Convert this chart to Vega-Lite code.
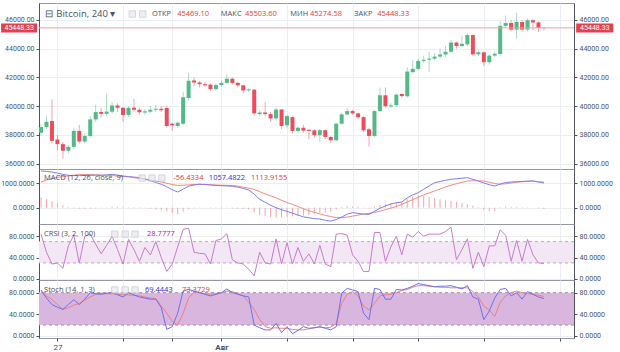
{
"$schema":"https://vega.github.io/schema/vega-lite/v6.json",
"padding":{"left":0,"top":2,"right":0,"bottom":0},
"background":"#ffffff",
"bounds":"flush",
"spacing":0,
"config":{
 "view":{"stroke":"#9598a1","strokeWidth":1},
 "axis":{"labelFont":"Roboto","labelFontSize":7,"labelColor":"#4c525e","gridColor":"#eceef2","domainColor":"#50535e","tickColor":"#50535e","tickSize":3,"labelPadding":2},
 "text":{"font":"Open Sans"}
},
"datasets":{"bars":[
{"i":0,"o":38150,"h":38750,"l":37950,"c":38550,"macd":1486,"sig":1040,"hist":420,"crsi":84,"k":85,"d":81},
{"i":1,"o":38550,"h":39300,"l":38400,"c":38920,"macd":1470,"sig":1120,"hist":350,"crsi":50,"k":70,"d":74},
{"i":2,"o":38970,"h":40480,"l":37400,"c":37590,"macd":1445,"sig":1180,"hist":265,"crsi":28,"k":58,"d":67},
{"i":3,"o":37680,"h":38000,"l":36900,"c":37360,"macd":1400,"sig":1230,"hist":170,"crsi":30,"k":53,"d":58},
{"i":4,"o":37360,"h":37500,"l":36350,"c":36900,"macd":1350,"sig":1255,"hist":95,"crsi":20,"k":49,"d":49},
{"i":5,"o":36900,"h":37300,"l":36700,"c":37170,"macd":1311,"sig":1290,"hist":25,"crsi":62,"k":58,"d":52},
{"i":6,"o":37170,"h":38500,"l":37000,"c":38280,"macd":1300,"sig":1320,"hist":-20,"crsi":82,"k":67,"d":57},
{"i":7,"o":38280,"h":38700,"l":37400,"c":37540,"macd":1300,"sig":1340,"hist":-35,"crsi":30,"k":58,"d":60},
{"i":8,"o":37540,"h":38100,"l":37400,"c":37930,"macd":1305,"sig":1350,"hist":-40,"crsi":80,"k":68,"d":66},
{"i":9,"o":37930,"h":39300,"l":37800,"c":39080,"macd":1310,"sig":1345,"hist":-35,"crsi":84,"k":80,"d":72},
{"i":10,"o":39080,"h":40100,"l":38900,"c":39590,"macd":1315,"sig":1335,"hist":-25,"crsi":65,"k":78,"d":77},
{"i":11,"o":39600,"h":39900,"l":39200,"c":39470,"macd":1311,"sig":1320,"hist":-15,"crsi":47,"k":77,"d":79},
{"i":12,"o":39470,"h":40900,"l":39300,"c":39620,"macd":1330,"sig":1311,"hist":15,"crsi":63,"k":79,"d":78},
{"i":13,"o":39620,"h":40300,"l":39500,"c":40050,"macd":1350,"sig":1300,"hist":45,"crsi":80,"k":80,"d":78},
{"i":14,"o":40050,"h":40200,"l":39600,"c":39890,"macd":1320,"sig":1280,"hist":35,"crsi":55,"k":76,"d":77},
{"i":15,"o":39890,"h":39950,"l":38900,"c":39380,"macd":1283,"sig":1260,"hist":20,"crsi":28,"k":72,"d":76},
{"i":16,"o":39380,"h":40000,"l":39250,"c":39890,"macd":1260,"sig":1245,"hist":15,"crsi":74,"k":80,"d":76},
{"i":17,"o":39900,"h":40500,"l":39600,"c":39750,"macd":1240,"sig":1215,"hist":20,"crsi":55,"k":76,"d":75},
{"i":18,"o":39750,"h":39900,"l":39400,"c":39580,"macd":1215,"sig":1190,"hist":20,"crsi":33,"k":72,"d":74},
{"i":19,"o":39560,"h":39800,"l":39400,"c":39640,"macd":1160,"sig":1160,"hist":-10,"crsi":59,"k":70,"d":72},
{"i":20,"o":39620,"h":40000,"l":39500,"c":39750,"macd":1090,"sig":1120,"hist":-40,"crsi":45,"k":68,"d":70},
{"i":21,"o":39750,"h":40100,"l":39600,"c":39820,"macd":1020,"sig":1080,"hist":-70,"crsi":70,"k":68,"d":69},
{"i":22,"o":39820,"h":40000,"l":39600,"c":39720,"macd":947,"sig":1040,"hist":-100,"crsi":40,"k":52,"d":55},
{"i":23,"o":39880,"h":40000,"l":38500,"c":38620,"macd":850,"sig":990,"hist":-150,"crsi":14,"k":12,"d":42},
{"i":24,"o":38780,"h":38850,"l":38300,"c":38670,"macd":730,"sig":940,"hist":-220,"crsi":28,"k":17,"d":27},
{"i":25,"o":38620,"h":38950,"l":38500,"c":38850,"macd":636,"sig":900,"hist":-270,"crsi":60,"k":42,"d":20},
{"i":26,"o":38780,"h":41000,"l":38700,"c":40620,"macd":750,"sig":910,"hist":-160,"crsi":93,"k":83,"d":42},
{"i":27,"o":40570,"h":42300,"l":40400,"c":41770,"macd":870,"sig":925,"hist":-60,"crsi":95,"k":86,"d":70},
{"i":28,"o":41790,"h":42000,"l":41400,"c":41650,"macd":920,"sig":940,"hist":-25,"crsi":50,"k":83,"d":81},
{"i":29,"o":41650,"h":41750,"l":41300,"c":41530,"macd":947,"sig":947,"hist":-10,"crsi":48,"k":80,"d":80},
{"i":30,"o":41530,"h":41700,"l":41350,"c":41450,"macd":940,"sig":940,"hist":-10,"crsi":47,"k":77,"d":78},
{"i":31,"o":41500,"h":41600,"l":41050,"c":41190,"macd":920,"sig":930,"hist":-15,"crsi":28,"k":74,"d":77},
{"i":32,"o":41190,"h":41600,"l":41100,"c":41470,"macd":900,"sig":920,"hist":-20,"crsi":72,"k":77,"d":78},
{"i":33,"o":41470,"h":41800,"l":41350,"c":41620,"macd":890,"sig":910,"hist":-20,"crsi":75,"k":80,"d":80},
{"i":34,"o":41620,"h":42200,"l":41550,"c":41910,"macd":880,"sig":905,"hist":-25,"crsi":85,"k":87,"d":83},
{"i":35,"o":41910,"h":42000,"l":41500,"c":41620,"macd":870,"sig":900,"hist":-30,"crsi":36,"k":80,"d":82},
{"i":36,"o":41620,"h":41700,"l":41300,"c":41450,"macd":830,"sig":870,"hist":-40,"crsi":30,"k":77,"d":78},
{"i":37,"o":41450,"h":41500,"l":40900,"c":41100,"macd":780,"sig":830,"hist":-55,"crsi":28,"k":74,"d":74},
{"i":38,"o":41100,"h":41250,"l":41000,"c":41170,"macd":716,"sig":790,"hist":-80,"crsi":18,"k":72,"d":62},
{"i":39,"o":41150,"h":41200,"l":39400,"c":39500,"macd":550,"sig":740,"hist":-190,"crsi":6,"k":20,"d":49},
{"i":40,"o":39450,"h":39700,"l":39300,"c":39560,"macd":340,"sig":650,"hist":-300,"crsi":50,"k":15,"d":30},
{"i":41,"o":39560,"h":40300,"l":39300,"c":39450,"macd":220,"sig":560,"hist":-340,"crsi":30,"k":11,"d":17},
{"i":42,"o":39450,"h":39600,"l":38900,"c":39150,"macd":100,"sig":480,"hist":-380,"crsi":28,"k":11,"d":14},
{"i":43,"o":39150,"h":39900,"l":39000,"c":39770,"macd":0,"sig":400,"hist":-400,"crsi":75,"k":23,"d":15},
{"i":44,"o":39770,"h":39800,"l":38400,"c":38620,"macd":-80,"sig":300,"hist":-390,"crsi":28,"k":6,"d":14},
{"i":45,"o":38670,"h":39400,"l":38500,"c":39310,"macd":-150,"sig":210,"hist":-370,"crsi":68,"k":17,"d":14},
{"i":46,"o":39240,"h":39300,"l":38100,"c":38280,"macd":-220,"sig":135,"hist":-355,"crsi":28,"k":4,"d":12},
{"i":47,"o":38280,"h":38600,"l":38150,"c":38500,"macd":-300,"sig":50,"hist":-340,"crsi":59,"k":10,"d":11},
{"i":48,"o":38500,"h":38700,"l":38150,"c":38300,"macd":-370,"sig":-40,"hist":-320,"crsi":33,"k":17,"d":11},
{"i":49,"o":38360,"h":38400,"l":37700,"c":38280,"macd":-410,"sig":-120,"hist":-290,"crsi":47,"k":14,"d":13},
{"i":50,"o":38320,"h":38400,"l":37800,"c":37980,"macd":-440,"sig":-190,"hist":-250,"crsi":28,"k":15,"d":15},
{"i":51,"o":37980,"h":38400,"l":37500,"c":38330,"macd":-460,"sig":-250,"hist":-210,"crsi":63,"k":17,"d":16},
{"i":52,"o":38330,"h":38400,"l":37700,"c":37860,"macd":-510,"sig":-310,"hist":-190,"crsi":28,"k":14,"d":15},
{"i":53,"o":37860,"h":37900,"l":37450,"c":37630,"macd":-540,"sig":-360,"hist":-170,"crsi":23,"k":11,"d":16},
{"i":54,"o":37630,"h":38850,"l":37550,"c":38780,"macd":-480,"sig":-400,"hist":-80,"crsi":84,"k":17,"d":23},
{"i":55,"o":38780,"h":39550,"l":38700,"c":39430,"macd":-380,"sig":-405,"hist":30,"crsi":85,"k":79,"d":60},
{"i":56,"o":39430,"h":39900,"l":39350,"c":39660,"macd":-260,"sig":-380,"hist":60,"crsi":82,"k":88,"d":77},
{"i":57,"o":39660,"h":39750,"l":39400,"c":39500,"macd":-200,"sig":-340,"hist":50,"crsi":45,"k":85,"d":82},
{"i":58,"o":39500,"h":39550,"l":39100,"c":39230,"macd":-230,"sig":-300,"hist":40,"crsi":33,"k":82,"d":74},
{"i":59,"o":39240,"h":39300,"l":38200,"c":38320,"macd":-260,"sig":-260,"hist":10,"crsi":14,"k":42,"d":55},
{"i":60,"o":38390,"h":38500,"l":37200,"c":37930,"macd":-270,"sig":-230,"hist":-30,"crsi":14,"k":30,"d":48},
{"i":61,"o":37930,"h":39750,"l":37850,"c":39660,"macd":-150,"sig":-190,"hist":50,"crsi":87,"k":88,"d":60},
{"i":62,"o":39660,"h":41300,"l":39600,"c":40760,"macd":-20,"sig":-140,"hist":110,"crsi":87,"k":86,"d":74},
{"i":63,"o":40760,"h":41300,"l":39900,"c":40000,"macd":70,"sig":-80,"hist":150,"crsi":33,"k":68,"d":76},
{"i":64,"o":39980,"h":40200,"l":39900,"c":40060,"macd":150,"sig":-20,"hist":180,"crsi":60,"k":68,"d":77},
{"i":65,"o":40070,"h":40900,"l":39950,"c":40800,"macd":200,"sig":50,"hist":200,"crsi":80,"k":86,"d":80},
{"i":66,"o":40850,"h":40900,"l":40600,"c":40700,"macd":230,"sig":135,"hist":230,"crsi":45,"k":85,"d":84},
{"i":67,"o":40690,"h":42700,"l":40600,"c":42410,"macd":400,"sig":230,"hist":350,"crsi":84,"k":88,"d":86},
{"i":68,"o":42370,"h":43200,"l":42300,"c":42600,"macd":520,"sig":330,"hist":450,"crsi":78,"k":92,"d":90},
{"i":69,"o":42600,"h":43300,"l":42500,"c":43150,"macd":607,"sig":420,"hist":500,"crsi":89,"k":97,"d":93},
{"i":70,"o":43150,"h":43500,"l":43000,"c":43230,"macd":750,"sig":520,"hist":470,"crsi":80,"k":95,"d":93},
{"i":71,"o":43230,"h":43800,"l":42400,"c":43310,"macd":880,"sig":600,"hist":430,"crsi":84,"k":93,"d":92},
{"i":72,"o":43310,"h":43700,"l":43200,"c":43450,"macd":1012,"sig":675,"hist":390,"crsi":84,"k":91,"d":91},
{"i":73,"o":43450,"h":44000,"l":43300,"c":43600,"macd":1060,"sig":760,"hist":340,"crsi":84,"k":92,"d":90},
{"i":74,"o":43600,"h":44200,"l":43400,"c":43790,"macd":1110,"sig":840,"hist":300,"crsi":89,"k":92,"d":90},
{"i":75,"o":43790,"h":44600,"l":43700,"c":44430,"macd":1150,"sig":910,"hist":270,"crsi":97,"k":93,"d":89},
{"i":76,"o":44430,"h":44500,"l":44000,"c":44190,"macd":1170,"sig":970,"hist":230,"crsi":36,"k":90,"d":89},
{"i":77,"o":44190,"h":44900,"l":44100,"c":44340,"macd":1195,"sig":1030,"hist":180,"crsi":55,"k":87,"d":89},
{"i":78,"o":44300,"h":45100,"l":44200,"c":44950,"macd":1215,"sig":1080,"hist":140,"crsi":75,"k":93,"d":89},
{"i":79,"o":44950,"h":45000,"l":43500,"c":43610,"macd":1150,"sig":1090,"hist":80,"crsi":20,"k":72,"d":82},
{"i":80,"o":43610,"h":43900,"l":43500,"c":43750,"macd":1080,"sig":1090,"hist":20,"crsi":50,"k":68,"d":72},
{"i":81,"o":43750,"h":43800,"l":42800,"c":43060,"macd":1000,"sig":1080,"hist":-90,"crsi":23,"k":30,"d":55},
{"i":82,"o":43060,"h":43600,"l":42900,"c":43520,"macd":930,"sig":1030,"hist":-150,"crsi":62,"k":46,"d":48},
{"i":83,"o":43520,"h":43800,"l":43400,"c":43650,"macd":878,"sig":980,"hist":-140,"crsi":62,"k":70,"d":36},
{"i":84,"o":43630,"h":45900,"l":43550,"c":45590,"macd":960,"sig":947,"hist":20,"crsi":92,"k":86,"d":62},
{"i":85,"o":45590,"h":46300,"l":45450,"c":45790,"macd":1020,"sig":970,"hist":50,"crsi":82,"k":88,"d":74},
{"i":86,"o":45790,"h":46000,"l":45200,"c":45330,"macd":1040,"sig":1000,"hist":40,"crsi":33,"k":74,"d":80},
{"i":87,"o":45330,"h":46500,"l":44700,"c":45860,"macd":1050,"sig":1030,"hist":30,"crsi":72,"k":80,"d":83},
{"i":88,"o":45860,"h":46000,"l":45200,"c":45330,"macd":1065,"sig":1050,"hist":20,"crsi":33,"k":68,"d":80},
{"i":89,"o":45330,"h":46100,"l":45200,"c":45980,"macd":1075,"sig":1070,"hist":10,"crsi":74,"k":82,"d":78},
{"i":90,"o":45980,"h":46050,"l":45300,"c":45830,"macd":1080,"sig":1080,"hist":0,"crsi":45,"k":77,"d":77},
{"i":91,"o":45830,"h":45900,"l":45150,"c":45450,"macd":1040,"sig":1050,"hist":-20,"crsi":30,"k":72,"d":75},
{"i":92,"o":45469.1,"h":45503.6,"l":45274.58,"c":45448.33,"macd":1000,"sig":1040,"hist":-56,"crsi":29,"k":69,"d":73}
]},
"vconcat":[
{
 "width":535,"height":166,
 "resolve":{"axis":{"y":"independent"}},
 "layer":[
  {"data":{"name":"bars"},"mark":{"type":"rule","strokeWidth":1,"opacity":0.5},
   "encoding":{
    "x":{"field":"i","type":"quantitative","scale":{"domain":[-0.37,97.5],"nice":false,"zero":false},"axis":{"values":[3,15,24,33,45,57,69,81,95],"grid":true,"labels":false,"ticks":false,"domain":false,"minExtent":0,"maxExtent":0,"title":null}},
    "y":{"field":"l","type":"quantitative","scale":{"domain":[35630,47180],"nice":false,"zero":false},"axis":{"orient":"left","values":[36000,38000,40000,42000,44000,46000],"format":".2f","grid":true,"minExtent":38,"maxExtent":38,"title":null}},
    "y2":{"field":"h"},
    "color":{"condition":{"test":"datum.c >= datum.o","value":"#53b987"},"value":"#eb4d5c"}}},
  {"data":{"name":"bars"},"mark":{"type":"rule","strokeWidth":4},
   "encoding":{
    "x":{"field":"i","type":"quantitative","scale":{"domain":[-0.37,97.5],"nice":false,"zero":false}},
    "y":{"field":"o","type":"quantitative","scale":{"domain":[35630,47180],"nice":false,"zero":false},"axis":{"orient":"right","values":[36000,38000,40000,42000,44000,46000],"format":".2f","grid":false,"title":null}},
    "y2":{"field":"c"},
    "color":{"condition":{"test":"datum.c >= datum.o","value":"#53b987"},"value":"#eb4d5c"}}},
  {"data":{"values":[{}]},"mark":{"type":"rule","color":"#f2a0a5","strokeWidth":1},
   "encoding":{"y":{"datum":45448.33,"type":"quantitative","scale":{"domain":[35630,47180],"nice":false,"zero":false},"axis":null}}},
  {"data":{"values":[{}]},"mark":{"type":"rect","color":"#e0434b"},
   "encoding":{"x":{"datum":-7.3,"type":"quantitative","scale":{"domain":[-0.37,97.5],"nice":false,"zero":false}},"x2":{"datum":-0.73},
    "y":{"datum":45760,"type":"quantitative","scale":{"domain":[35630,47180],"nice":false,"zero":false},"axis":null},"y2":{"datum":45130}}},
  {"data":{"values":[{}]},"mark":{"type":"rect","color":"#e0434b"},
   "encoding":{"x":{"datum":97.9,"type":"quantitative","scale":{"domain":[-0.37,97.5],"nice":false,"zero":false}},"x2":{"datum":104.7},
    "y":{"datum":45760,"type":"quantitative","scale":{"domain":[35630,47180],"nice":false,"zero":false},"axis":null},"y2":{"datum":45130}}},
  {"data":{"values":[{"t":"45448.33","at":-4.0},{"t":"45448.33","at":101.3}]},"mark":{"type":"text","font":"Roboto","fontSize":7,"color":"#ffffff","align":"center","baseline":"middle"},
   "encoding":{"x":{"field":"at","type":"quantitative","scale":{"domain":[-0.37,97.5],"nice":false,"zero":false}},
    "y":{"datum":45448.33,"type":"quantitative","scale":{"domain":[35630,47180],"nice":false,"zero":false},"axis":null},"text":{"field":"t"}}},
  {"data":{"values":[{"t":"⊟","at":0.75},{"t":"Bitcoin, 240 ▾","at":2.8}]},"mark":{"type":"text","fontSize":9.5,"color":"#4c525e","align":"left","baseline":"middle"},
   "encoding":{"x":{"field":"at","type":"quantitative","scale":{"domain":[-0.37,97.5],"nice":false,"zero":false}},
    "y":{"datum":46415,"type":"quantitative","scale":{"domain":[35630,47180],"nice":false,"zero":false},"axis":null},"text":{"field":"t"}}},
  {"data":{"values":[{"at":16.7},{"at":18.6}]},"mark":{"type":"point","shape":"square","size":40,"filled":true,"color":"#e6e8ee","stroke":"#c3c6ce","strokeWidth":1},
   "encoding":{"x":{"field":"at","type":"quantitative","scale":{"domain":[-0.37,97.5],"nice":false,"zero":false}},
    "y":{"datum":46415,"type":"quantitative","scale":{"domain":[35630,47180],"nice":false,"zero":false},"axis":null}}},
  {"data":{"values":[{"t":"ОТКР","at":20.3,"k":"lab"},{"t":"45469.10","at":24.9,"k":"red"},{"t":"МАКС","at":32.9,"k":"lab"},{"t":"45503.60","at":37.3,"k":"red"},{"t":"МИН","at":45.6,"k":"lab"},{"t":"45274.58","at":49.2,"k":"red"},{"t":"ЗАКР","at":57.3,"k":"lab"},{"t":"45448.33","at":61.5,"k":"red"}]},
   "mark":{"type":"text","fontSize":7.5,"align":"left","baseline":"middle"},
   "encoding":{"x":{"field":"at","type":"quantitative","scale":{"domain":[-0.37,97.5],"nice":false,"zero":false}},
    "y":{"datum":46415,"type":"quantitative","scale":{"domain":[35630,47180],"nice":false,"zero":false},"axis":null},"text":{"field":"t"},
    "color":{"field":"k","type":"nominal","scale":{"domain":["lab","red","blue","purple"],"range":["#4c525e","#e53935","#2e2ed0","#9c27b0"]},"legend":null}}}
 ]
},
{
 "width":535,"height":55,
 "resolve":{"axis":{"y":"independent"}},
 "layer":[
  {"data":{"name":"bars"},"mark":{"type":"rule","strokeWidth":1,"color":"#f5a5a5"},
   "encoding":{
    "x":{"field":"i","type":"quantitative","scale":{"domain":[-0.37,97.5],"nice":false,"zero":false},"axis":{"values":[3,15,24,33,45,57,69,81,95],"grid":true,"labels":false,"ticks":false,"domain":false,"minExtent":0,"maxExtent":0,"title":null}},
    "y":{"field":"hist","type":"quantitative","scale":{"domain":[-660,1567],"nice":false,"zero":false},"axis":{"orient":"left","values":[0,1000],"format":".4f","grid":true,"minExtent":38,"maxExtent":38,"title":null}},
    "y2":{"datum":0}}},
  {"data":{"name":"bars"},"mark":{"type":"line","strokeWidth":1,"color":"#f28b82"},
   "encoding":{
    "x":{"field":"i","type":"quantitative","scale":{"domain":[-0.37,97.5],"nice":false,"zero":false}},
    "y":{"field":"sig","type":"quantitative","scale":{"domain":[-660,1567],"nice":false,"zero":false},"axis":{"orient":"right","values":[0,1000],"format":".4f","grid":false,"title":null}}}},
  {"data":{"name":"bars"},"mark":{"type":"line","strokeWidth":1,"color":"#7e7ef2"},
   "encoding":{
    "x":{"field":"i","type":"quantitative","scale":{"domain":[-0.37,97.5],"nice":false,"zero":false}},
    "y":{"field":"macd","type":"quantitative","scale":{"domain":[-660,1567],"nice":false,"zero":false},"axis":null}}},
  {"data":{"values":[{"at":18.5},{"at":20.3},{"at":22.1}]},"mark":{"type":"point","shape":"square","size":40,"filled":true,"color":"#e6e8ee","stroke":"#c3c6ce","strokeWidth":1},
   "encoding":{"x":{"field":"at","type":"quantitative","scale":{"domain":[-0.37,97.5],"nice":false,"zero":false}},
    "y":{"datum":1200,"type":"quantitative","scale":{"domain":[-660,1567],"nice":false,"zero":false},"axis":null}}},
  {"data":{"values":[{"t":"MACD (12, 26, close, 9)","at":0.55,"k":"lab"},{"t":"-56.4334","at":24.2,"k":"red"},{"t":"1057.4822","at":30.7,"k":"blue"},{"t":"1113.9155","at":38.4,"k":"red"}]},
   "mark":{"type":"text","fontSize":7.5,"align":"left","baseline":"middle"},
   "encoding":{"x":{"field":"at","type":"quantitative","scale":{"domain":[-0.37,97.5],"nice":false,"zero":false}},
    "y":{"datum":1200,"type":"quantitative","scale":{"domain":[-660,1567],"nice":false,"zero":false},"axis":null},"text":{"field":"t"},
    "color":{"field":"k","type":"nominal","scale":{"domain":["lab","red","blue","purple"],"range":["#4c525e","#e53935","#2e2ed0","#9c27b0"]},"legend":null}}}
 ]
},
{
 "width":535,"height":56,
 "resolve":{"axis":{"y":"independent"}},
 "layer":[
  {"data":{"values":[{}]},"mark":{"type":"rect","color":"#f3e6f5"},
   "encoding":{"x":{"datum":-0.37,"type":"quantitative","scale":{"domain":[-0.37,97.5],"nice":false,"zero":false},"axis":{"values":[3,15,24,33,45,57,69,81,95],"grid":true,"labels":false,"ticks":false,"domain":false,"minExtent":0,"maxExtent":0,"title":null}},"x2":{"datum":97.5},
    "y":{"datum":70,"type":"quantitative","scale":{"domain":[-2,103],"nice":false,"zero":false},"axis":null},"y2":{"datum":30}}},
  {"data":{"values":[{}]},"mark":{"type":"rule","color":"#c9a2cc","strokeDash":[3,3],"strokeWidth":1},
   "encoding":{"y":{"datum":70,"type":"quantitative","scale":{"domain":[-2,103],"nice":false,"zero":false},"axis":null}}},
  {"data":{"values":[{}]},"mark":{"type":"rule","color":"#c9a2cc","strokeDash":[3,3],"strokeWidth":1},
   "encoding":{"y":{"datum":30,"type":"quantitative","scale":{"domain":[-2,103],"nice":false,"zero":false},"axis":null}}},
  {"data":{"name":"bars"},"mark":{"type":"line","strokeWidth":1,"color":"#c77dca"},
   "encoding":{
    "x":{"field":"i","type":"quantitative","scale":{"domain":[-0.37,97.5],"nice":false,"zero":false}},
    "y":{"field":"crsi","type":"quantitative","scale":{"domain":[-2,103],"nice":false,"zero":false},"axis":{"orient":"left","values":[0,40,80],"format":".4f","grid":true,"minExtent":38,"maxExtent":38,"title":null}}}},
  {"data":{"name":"bars"},"mark":{"type":"line","strokeWidth":1,"opacity":0},
   "encoding":{
    "x":{"field":"i","type":"quantitative","scale":{"domain":[-0.37,97.5],"nice":false,"zero":false}},
    "y":{"field":"crsi","type":"quantitative","scale":{"domain":[-2,103],"nice":false,"zero":false},"axis":{"orient":"right","values":[0,40,80],"format":".4f","grid":false,"title":null}}}},
  {"data":{"values":[{"at":13.5},{"at":15.4},{"at":17.2}]},"mark":{"type":"point","shape":"square","size":40,"filled":true,"color":"#e6e8ee","stroke":"#c3c6ce","strokeWidth":1},
   "encoding":{"x":{"field":"at","type":"quantitative","scale":{"domain":[-0.37,97.5],"nice":false,"zero":false}},
    "y":{"datum":84,"type":"quantitative","scale":{"domain":[-2,103],"nice":false,"zero":false},"axis":null}}},
  {"data":{"values":[{"t":"CRSI (3, 2, 100)","at":0.55,"k":"lab"},{"t":"28.7777","at":19.4,"k":"purple"}]},
   "mark":{"type":"text","fontSize":7.5,"align":"left","baseline":"middle"},
   "encoding":{"x":{"field":"at","type":"quantitative","scale":{"domain":[-0.37,97.5],"nice":false,"zero":false}},
    "y":{"datum":84,"type":"quantitative","scale":{"domain":[-2,103],"nice":false,"zero":false},"axis":null},"text":{"field":"t"},
    "color":{"field":"k","type":"nominal","scale":{"domain":["lab","red","blue","purple"],"range":["#4c525e","#e53935","#2e2ed0","#9c27b0"]},"legend":null}}}
 ]
},
{
 "width":535,"height":58,
 "resolve":{"axis":{"y":"independent"}},
 "layer":[
  {"data":{"values":[{}]},"mark":{"type":"rect","color":"#d9b6de"},
   "encoding":{"x":{"datum":-0.37,"type":"quantitative","scale":{"domain":[-0.37,97.5],"nice":false,"zero":false},"axis":{"values":[3,15,24,33,45,57,69,81,95],"grid":true,"domain":false,"ticks":true,"tickSize":3,"labelFontSize":8,"labelPadding":2,"labelExpr":"datum.value == 3 ? '27' : (datum.value == 33 ? 'Авг' : '')","labelFontWeight":{"condition":{"test":"datum.value == 33","value":"bold"},"value":"normal"},"title":null}},"x2":{"datum":97.5},
    "y":{"datum":80,"type":"quantitative","scale":{"domain":[-4,103.5],"nice":false,"zero":false},"axis":null},"y2":{"datum":20}}},
  {"data":{"values":[{}]},"mark":{"type":"rule","color":"#a98aad","strokeDash":[3,3],"strokeWidth":1},
   "encoding":{"y":{"datum":80,"type":"quantitative","scale":{"domain":[-4,103.5],"nice":false,"zero":false},"axis":null}}},
  {"data":{"values":[{}]},"mark":{"type":"rule","color":"#a98aad","strokeDash":[3,3],"strokeWidth":1},
   "encoding":{"y":{"datum":20,"type":"quantitative","scale":{"domain":[-4,103.5],"nice":false,"zero":false},"axis":null}}},
  {"data":{"name":"bars"},"mark":{"type":"line","strokeWidth":1,"color":"#ef7f7f"},
   "encoding":{
    "x":{"field":"i","type":"quantitative","scale":{"domain":[-0.37,97.5],"nice":false,"zero":false}},
    "y":{"field":"d","type":"quantitative","scale":{"domain":[-4,103.5],"nice":false,"zero":false},"axis":{"orient":"right","values":[0,40,80],"format":".4f","grid":false,"title":null}}}},
  {"data":{"name":"bars"},"mark":{"type":"line","strokeWidth":1,"color":"#6f6ff0"},
   "encoding":{
    "x":{"field":"i","type":"quantitative","scale":{"domain":[-0.37,97.5],"nice":false,"zero":false}},
    "y":{"field":"k","type":"quantitative","scale":{"domain":[-4,103.5],"nice":false,"zero":false},"axis":{"orient":"left","values":[0,40,80],"format":".4f","grid":true,"minExtent":38,"maxExtent":38,"title":null}}}},
  {"data":{"values":[{"at":13.5},{"at":15.4},{"at":17.2}]},"mark":{"type":"point","shape":"square","size":40,"filled":true,"color":"#e6e8ee","stroke":"#c3c6ce","strokeWidth":1},
   "encoding":{"x":{"field":"at","type":"quantitative","scale":{"domain":[-0.37,97.5],"nice":false,"zero":false}},
    "y":{"datum":85,"type":"quantitative","scale":{"domain":[-4,103.5],"nice":false,"zero":false},"axis":null}}},
  {"data":{"values":[{"t":"Stoch (14, 1, 3)","at":0.55,"k":"lab"},{"t":"69.4443","at":19.0,"k":"blue"},{"t":"73.3729","at":25.8,"k":"red"}]},
   "mark":{"type":"text","fontSize":7.5,"align":"left","baseline":"middle"},
   "encoding":{"x":{"field":"at","type":"quantitative","scale":{"domain":[-0.37,97.5],"nice":false,"zero":false}},
    "y":{"datum":85,"type":"quantitative","scale":{"domain":[-4,103.5],"nice":false,"zero":false},"axis":null},"text":{"field":"t"},
    "color":{"field":"k","type":"nominal","scale":{"domain":["lab","red","blue","purple"],"range":["#4c525e","#e53935","#2e2ed0","#9c27b0"]},"legend":null}}}
 ]
}
]
}
